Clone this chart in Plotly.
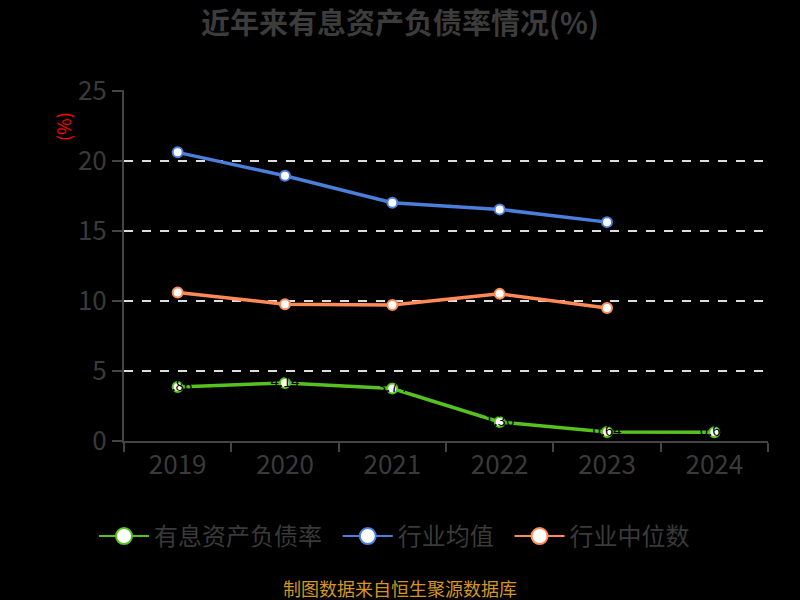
import plotly.graph_objects as go

years = ["2019", "2020", "2021", "2022", "2023", "2024"]
debt_ratio = [3.86, 4.14, 3.74, 1.36, 0.64, 0.62]
industry_mean = [20.6, 18.93, 17.0, 16.53, 15.62]
industry_median = [10.6, 9.76, 9.71, 10.5, 9.5]
series_names = ["有息资产负债率", "行业均值", "行业中位数"]

FONT = "Noto Sans CJK SC, Microsoft YaHei, sans-serif"
GREEN = "#57c21f"
BLUE = "#4a7fdc"
ORANGE = "#ff8a57"

fig = go.Figure()

fig.add_trace(go.Scatter(
    x=years, y=debt_ratio, name=series_names[0], mode="lines+markers+text",
    text=[f"{v:.2f}" for v in debt_ratio], textposition="middle center",
    textfont=dict(color="#000000", size=15, family=FONT),
    line=dict(color=GREEN, width=3.5),
    marker=dict(size=10, color="white", line=dict(color=GREEN, width=2)),
    showlegend=False,
))
fig.add_trace(go.Scatter(
    x=years[:len(industry_mean)], y=industry_mean, name=series_names[1], mode="lines+markers",
    line=dict(color=BLUE, width=3.5),
    marker=dict(size=10, color="white", line=dict(color=BLUE, width=2)),
    showlegend=False,
))
fig.add_trace(go.Scatter(
    x=years[:len(industry_median)], y=industry_median, name=series_names[2], mode="lines+markers",
    line=dict(color=ORANGE, width=3.5),
    marker=dict(size=10, color="white", line=dict(color=ORANGE, width=2)),
    showlegend=False,
))

# legend-only entries with larger symbols
for name, col in zip(series_names, [GREEN, BLUE, ORANGE]):
    fig.add_trace(go.Scatter(
        x=[None], y=[None], name=name + "\u00a0\u00a0", mode="lines+markers",
        line=dict(color=col, width=2),
        marker=dict(size=16, color="white", line=dict(color=col, width=2)),
        showlegend=True,
    ))

fig.update_layout(
    width=800, height=600,
    paper_bgcolor="black", plot_bgcolor="black",
    margin=dict(l=124, r=32, t=90, b=159),
    font=dict(family=FONT, color="#3a3a3a"),
    title=dict(text="<b>近年来有息资产负债率情况(%)</b>", x=0.5, xanchor="center",
               y=0.96, yanchor="middle", font=dict(size=29, color="#3c3c3c", family=FONT)),
    showlegend=True,
    legend=dict(orientation="h", x=0.4286, xanchor="center", y=-0.272, yanchor="middle",
                font=dict(size=24, color="#3a3a3a", family=FONT),
                itemsizing="trace", itemwidth=50, bgcolor="rgba(0,0,0,0)"),
    xaxis=dict(
        type="category", range=[-0.5, 5.5], tickson="boundaries",
        showline=True, linecolor="#444444", linewidth=2,
        ticks="outside", ticklen=9, tickcolor="#444444", tickwidth=2,
        tickfont=dict(size=26, color="#3a3a3a", family=FONT),
        showgrid=False, zeroline=False,
    ),
    yaxis=dict(
        range=[0, 25.05], tick0=0, dtick=5,
        showline=True, linecolor="#444444", linewidth=2,
        ticks="outside", ticklen=10, tickcolor="#444444", tickwidth=2,
        tickfont=dict(size=26, color="#3a3a3a", family=FONT),
        showgrid=True, gridcolor="#dddddd", griddash="dash", gridwidth=2,
        zeroline=False,
    ),
    annotations=[
        dict(text="(%)", xref="paper", yref="paper", x=-0.095, y=0.897,
             textangle=-90, showarrow=False, font=dict(size=18, color="#ff0000", family=FONT),
             xanchor="center", yanchor="middle"),
        dict(text="制图数据来自恒生聚源数据库", xref="paper", yref="paper", x=0.4286, y=-0.42,
             showarrow=False, font=dict(size=18, color="#d4961e", family=FONT),
             xanchor="center", yanchor="middle"),
    ],
)

fig.write_html("out.html", config={"displayModeBar": False},
               post_script="document.body.style.margin='0';")
